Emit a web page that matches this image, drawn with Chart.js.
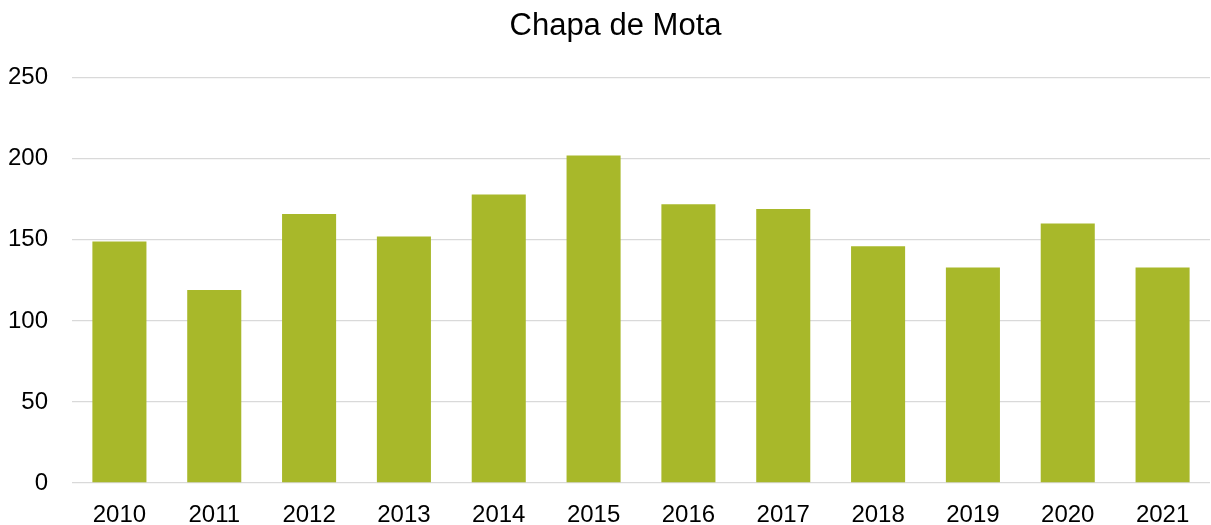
<!DOCTYPE html>
<html>
<head>
<meta charset="utf-8">
<script src="https://cdn.jsdelivr.net/npm/chart.js@4/dist/chart.umd.min.js"></script>
<style>
    html, body { margin: 0; padding: 0; background: #fff; }
    #wrap { width: 1211px; height: 525px; position: relative; }
</style>
</head>
<body>
<div id="wrap"><canvas id="chart"></canvas></div>
<script>
const chartTitle = 'Chapa de Mota';
const years = ['2010', '2011', '2012', '2013', '2014', '2015', '2016', '2017', '2018', '2019', '2020', '2021'];
const counts = [149, 119, 166, 152, 178, 202, 172, 169, 146, 133, 160, 133];
const yTicks = [0, 50, 100, 150, 200, 250];

const font = "'Liberation Sans', Arial, sans-serif";

// the title sits a little right of the canvas centre in the original
const titleShift = {
    id: 'titleShift',
    afterLayout(chart) {
        if (chart.titleBlock) chart.titleBlock.left += 21;
    }
};

const ctx = document.getElementById('chart').getContext('2d');
new Chart(ctx, {
    type: 'bar',
    data: {
        labels: years,
        datasets: [{
            label: chartTitle,
            data: counts,
            backgroundColor: '#a8b82a',
            borderWidth: 0,
            barPercentage: 0.57,
            categoryPercentage: 1
        }]
    },
    options: {
        responsive: true,
        maintainAspectRatio: false,
        animation: false,
        layout: { padding: { left: 0, right: 1, top: 0, bottom: 0 } },
        plugins: {
            legend: { display: false },
            tooltip: { enabled: false },
            title: {
                display: true,
                text: chartTitle,
                color: '#000',
                font: { family: font, size: 31, weight: 'normal' },
                padding: { top: 8, bottom: 32.5 }
            }
        },
        scales: {
            x: {
                grid: { display: false },
                border: { display: false },
                ticks: {
                    color: '#000',
                    font: { family: font, size: 24 },
                    padding: 10,
                    maxRotation: 0
                },
                afterFit: scale => { scale.height = 42; }
            },
            y: {
                min: yTicks[0],
                max: yTicks[yTicks.length - 1],
                afterBuildTicks: scale => { scale.ticks = yTicks.map(v => ({ value: v })); },
                grid: { color: '#d9d9d9', lineWidth: 1.3, drawTicks: false },
                border: { display: false },
                ticks: {
                    color: '#000',
                    font: { family: font, size: 24 },
                    padding: 24
                },
                afterFit: scale => { scale.width = 72; }
            }
        }
    },
    plugins: [titleShift]
});
</script>
</body>
</html>
